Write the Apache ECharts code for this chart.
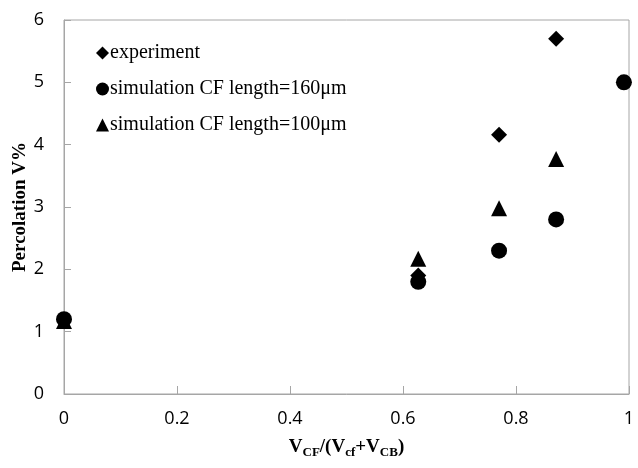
<!DOCTYPE html>
<html>
<head>
    <meta charset="utf-8">
    <title>Percolation</title>
    <script src="https://cdn.jsdelivr.net/npm/echarts@6/dist/echarts.min.js" type="text/javascript" charset="utf-8"></script>
</head>
<body style="margin:0">
<div id="chart" style="width: 638px;height: 468px;"></div>
<script type="text/javascript">

    // 数据
    var experiment = [[0.627, 1.9], [0.77, 4.16], [0.871, 5.7]];
    var sim160 = [[0, 1.2], [0.627, 1.8], [0.77, 2.3], [0.871, 2.8], [0.991, 5.0]];
    var sim100 = [[0, 1.17], [0.627, 2.17], [0.77, 2.98], [0.871, 3.77]];
    var seriesNames = ['experiment', 'simulation CF length=160\u03bcm', 'simulation CF length=100\u03bcm'];

    var myChart = echarts.init(document.getElementById('chart'));

    var axisGray = '#a6a6a6';
    var serif = '"Liberation Serif", "DejaVu Serif", serif';
    var sans = '"Open Sans", "Liberation Sans", sans-serif';

    myChart.setOption({
        animation: false,
        backgroundColor: '#fff',
        grid: {
            left: 64, right: 9, top: 20, bottom: 74,
            outerBoundsMode: 'none', containLabel: false,
            show: true, borderColor: axisGray, borderWidth: 1
        },
        legend: {
            orient: 'vertical',
            left: 91, top: 38,
            itemWidth: 13, itemHeight: 13, itemGap: 16,
            textStyle: { fontFamily: serif, fontSize: 20, color: '#000', padding: [0, 0, 0, -4] },
            data: [
                { name: seriesNames[0], icon: 'diamond' },
                { name: seriesNames[1], icon: 'circle' },
                { name: seriesNames[2], icon: 'triangle' }
            ]
        },
        xAxis: {
            type: 'value', min: 0, max: 1, interval: 0.2,
            splitLine: { show: false },
            axisLine: { lineStyle: { color: axisGray } },
            axisTick: { inside: true, length: 8, lineStyle: { color: axisGray } },
            axisLabel: { fontFamily: sans, fontSize: 18, color: '#000', margin: 16 },
            name: '{a|V}{b|CF}{a|/(V}{b|cf}{a|+V}{b|CB}{a|)}',
            nameLocation: 'middle', nameGap: 42,
            nameTextStyle: {
                rich: {
                    a: { fontFamily: serif, fontWeight: 'bold', fontSize: 19, color: '#000' },
                    b: { fontFamily: serif, fontWeight: 'bold', fontSize: 13, color: '#000', padding: [10, 0, 0, 0] }
                }
            }
        },
        yAxis: {
            type: 'value', min: 0, max: 6, interval: 1,
            splitLine: { show: false },
            axisLine: { show: true, lineStyle: { color: axisGray } },
            axisTick: { show: true, inside: true, length: 7, lineStyle: { color: axisGray } },
            axisLabel: { fontFamily: sans, fontSize: 18, color: '#000', margin: 20 },
            name: 'Percolation V%',
            nameLocation: 'middle', nameGap: 34, nameRotate: 90, nameMoveOverlap: false,
            nameTextStyle: { fontFamily: serif, fontWeight: 'bold', fontSize: 19, color: '#000' }
        },
        series: [
            {
                name: seriesNames[1], type: 'scatter', symbol: 'circle', symbolSize: 16,
                itemStyle: { color: '#000', opacity: 1 }, data: sim160
            },
            {
                name: seriesNames[2], type: 'scatter', symbol: 'triangle', symbolSize: 16,
                itemStyle: { color: '#000', opacity: 1 }, data: sim100
            },
            {
                name: seriesNames[0], type: 'scatter', symbol: 'diamond', symbolSize: 16,
                itemStyle: { color: '#000', opacity: 1 }, data: experiment
            }
        ]
    });
</script>
</body>
</html>
